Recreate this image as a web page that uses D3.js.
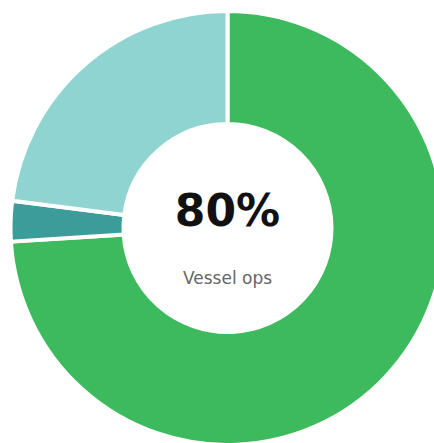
<!DOCTYPE html>
<html>
<head>
<meta charset="utf-8">
<script src="https://cdn.jsdelivr.net/npm/d3@7"></script>
<style>
  html, body { margin: 0; padding: 0; background: #ffffff; }
  svg { display: block; }
</style>
</head>
<body>
<div id="chart"></div>
<script>
const categories = ["Vessel ops", "Other", "Idle"];
const values = [74, 3, 23];
const colors = ["#3dba5e", "#3c9c9a", "#8fd4d0"];
const centerValue = "80%";
const centerLabel = "Vessel ops";

const width = 434, height = 443;
const cx = 227.5, cy = 228;
const outerR = 217, innerR = 104;

const svg = d3.select("#chart").append("svg")
  .attr("width", width).attr("height", height);

const g = svg.append("g").attr("transform", `translate(${cx},${cy})`);

const pie = d3.pie().sort(null).value(d => d.value);
const arc = d3.arc().innerRadius(innerR).outerRadius(outerR);

const data = categories.map((c, i) => ({ name: c, value: values[i], color: colors[i] }));

g.selectAll("path").data(pie(data)).join("path")
  .attr("d", arc)
  .attr("fill", d => d.data.color)
  .attr("stroke", "#ffffff")
  .attr("stroke-width", 4);

g.append("text")
  .attr("x", 0).attr("y", -2)
  .attr("text-anchor", "middle")
  .attr("font-family", "DejaVu Sans")
  .attr("font-weight", "bold")
  .attr("font-size", 44)
  .attr("fill", "#111111")
  .text(centerValue);

g.append("text")
  .attr("x", 0).attr("y", 56)
  .attr("text-anchor", "middle")
  .attr("font-family", "DejaVu Sans")
  .attr("font-size", 17)
  .attr("fill", "#666666")
  .text(centerLabel);
</script>
</body>
</html>
